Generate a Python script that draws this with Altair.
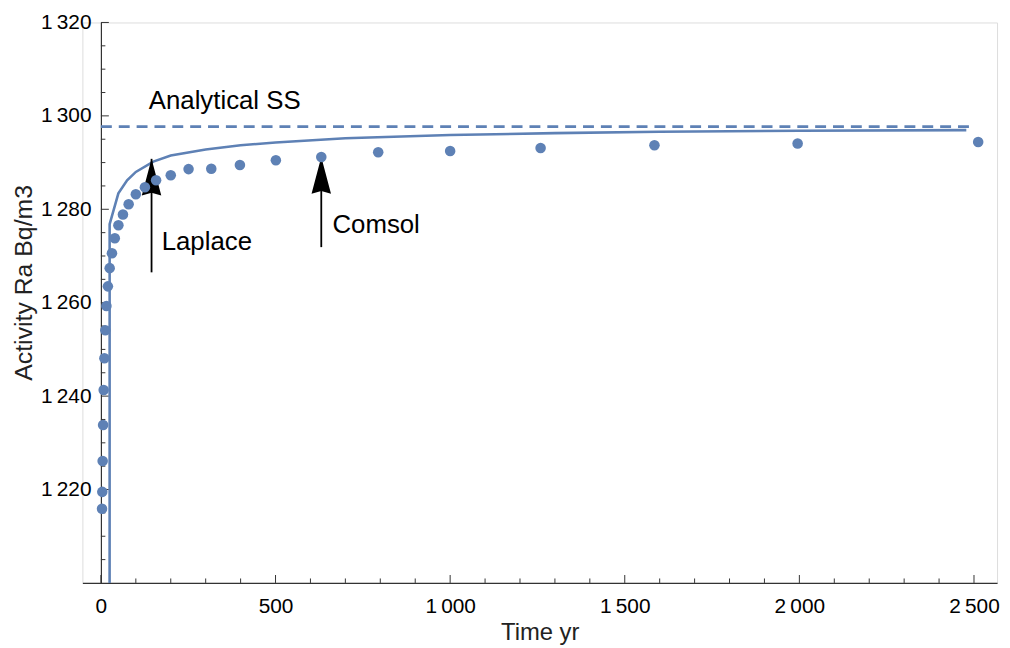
import altair as alt
import pandas as pd

# ---------------- data ----------------
comsol_t = [3.16, 3.98, 5.01, 6.31, 7.94, 10.0, 12.6, 15.8, 20.0, 25.1, 31.6, 39.8, 50.1,
            63.1, 79.4, 100, 126, 158, 200, 251, 316, 398, 501, 631, 794, 1000, 1259,
            1585, 1995, 2512]
comsol_a = [1215.9, 1219.5, 1226.1, 1233.8, 1241.3, 1248.1, 1254.1, 1259.3, 1263.5, 1267.4,
            1270.6, 1273.8, 1276.6, 1278.9, 1281.1, 1283.2, 1284.7, 1286.2, 1287.3, 1288.6,
            1288.7, 1289.5, 1290.5, 1291.2, 1292.2, 1292.5, 1293.1, 1293.7, 1294.1, 1294.4]

laplace_t = [24.9, 25, 50, 75, 100, 150, 200, 300, 400, 500, 700, 1000, 1300, 1600, 2000, 2478]
laplace_a = [1150, 1276.8, 1283.4, 1286.2, 1288.0, 1290.2, 1291.5, 1292.8, 1293.7, 1294.3,
             1295.2, 1295.9, 1296.3, 1296.6, 1296.8, 1296.95]

ss_t = [0, 2487]
ss_a = [1297.7, 1297.7]

arrow_t = [145, 631]
arrow_tail = [1266.5, 1271.9]
arrow_tip = [1290.8, 1291.2]

label_text = ["Analytical SS", "Laplace", "Comsol"]
label_t = [137, 174, 663]
label_a = [1301.4, 1271.3, 1274.9]

x_major = [0, 500, 1000, 1500, 2000, 2500]
x_minor = [v for v in range(100, 2600, 100) if v % 500 != 0]
y_major = [1220, 1240, 1260, 1280, 1300, 1320]
y_minor = [v for v in range(1205, 1320, 5) if v % 20 != 0]

X_DOMAIN = [-53, 2566]
Y_DOMAIN = [1200, 1320]
W, H = 922, 565
BLUE = "#5E81B5"
FONT = "Liberation Sans"
AX = "#333333"

y_axis_offset = -(0 - X_DOMAIN[0]) / (X_DOMAIN[1] - X_DOMAIN[0]) * W

fmt = ("datum.value >= 1000 ? floor(datum.value/1000) + '\u2009' + "
       "format(datum.value % 1000, '03d') : format(datum.value, 'd')")

xscale = alt.Scale(domain=X_DOMAIN, nice=False, zero=False)
yscale = alt.Scale(domain=Y_DOMAIN, nice=False, zero=False)

xaxis = alt.Axis(values=x_major, labelExpr=fmt, title="Time yr", ticks=False, tickSize=0,
                 grid=False, domainColor=AX, domainWidth=1.2, labelFont=FONT,
                 labelFontSize=21, labelColor="black", labelPadding=13, labelFlush=False,
                 titleFont=FONT, titleFontSize=24, titleFontWeight="normal",
                 titleColor="#222222", titleY=50, titleBaseline="middle")
yaxis = alt.Axis(values=y_major, labelExpr=fmt, title="Activity Ra Bq/m3", ticks=False,
                 tickSize=0, grid=False, domainColor=AX, domainWidth=1.2, offset=y_axis_offset,
                 labelFont=FONT, labelFontSize=21, labelColor="black", labelPadding=10,
                 labelFlush=False, titleFont=FONT, titleFontSize=25, titleFontWeight="normal",
                 titleColor="#222222", titleX=-78, titleY=262, titleAngle=270,
                 titleBaseline="middle", titleAlign="center")


def X(f):
    return alt.X(f, type="quantitative", scale=xscale, axis=xaxis)


def Y(f):
    return alt.Y(f, type="quantitative", scale=yscale, axis=yaxis)


df_c = pd.DataFrame({"t": comsol_t, "a": comsol_a})
df_l = pd.DataFrame({"t": laplace_t, "a": laplace_a})
df_ss = pd.DataFrame({"t": ss_t, "a": ss_a})
df_ar = pd.DataFrame({"t": arrow_t, "tail": arrow_tail, "tip": arrow_tip})
df_lab = pd.DataFrame({"t": label_t, "a": label_a, "txt": label_text})

ss = alt.Chart(df_ss).mark_line(color=BLUE, strokeWidth=3, strokeDash=[11, 7]).encode(
    x=X("t"), y=Y("a"))
lap = alt.Chart(df_l).mark_line(color=BLUE, strokeWidth=2.6, clip=True).encode(
    x=X("t"), y=Y("a"), order="t:Q")
shaft = alt.Chart(df_ar).mark_rule(color="black", strokeWidth=1.8).encode(
    x=X("t"), y=Y("tail"), y2="tip")
head = alt.Chart(df_ar).mark_point(
    shape="M0,0L0.53,2L0,1.85L-0.53,2Z", size=1369, filled=True, color="black",
    opacity=1, strokeWidth=0).encode(x=X("t"), y=Y("tip"))
dots = alt.Chart(df_c).mark_circle(color=BLUE, size=113, opacity=1).encode(
    x=X("t"), y=Y("a"))
texts = alt.Chart(df_lab).mark_text(font=FONT, fontSize=26, align="left",
                                    baseline="alphabetic", color="black").encode(
    x=X("t"), y=Y("a"), text="txt")

# inward axis ticks
df_xmaj = pd.DataFrame({"t": x_major})
df_xmin = pd.DataFrame({"t": x_minor})
df_ymaj = pd.DataFrame({"a": y_major})
df_ymin = pd.DataFrame({"a": y_minor})

y0 = alt.YDatum(Y_DOMAIN[0], type="quantitative", scale=yscale, axis=yaxis)
y0b = alt.Y2Datum(Y_DOMAIN[0])
x0 = alt.XDatum(0, type="quantitative", scale=xscale, axis=xaxis)
x0b = alt.X2Datum(0)

xt_maj = alt.Chart(df_xmaj).mark_rule(color=AX, strokeWidth=1, y2Offset=-8).encode(
    x=X("t"), y=y0, y2=y0b)
xt_min = alt.Chart(df_xmin).mark_rule(color=AX, strokeWidth=1, y2Offset=-4.5).encode(
    x=X("t"), y=y0, y2=y0b)
yt_maj = alt.Chart(df_ymaj).mark_rule(color=AX, strokeWidth=1, x2Offset=8).encode(
    y=Y("a"), x=x0, x2=x0b)
yt_min = alt.Chart(df_ymin).mark_rule(color=AX, strokeWidth=1, x2Offset=4.5).encode(
    y=Y("a"), x=x0, x2=x0b)

chart = alt.layer(xt_maj, xt_min, yt_maj, yt_min, ss, lap, shaft, head, dots, texts).properties(
    width=W, height=H,
    autosize=alt.AutoSizeParams(type="none"),
    padding={"left": 75, "top": 12, "right": 5, "bottom": 63},
).configure_view(stroke=None).configure(background="white")

chart.save("out.html", embed_options={"renderer": "svg", "actions": False})
